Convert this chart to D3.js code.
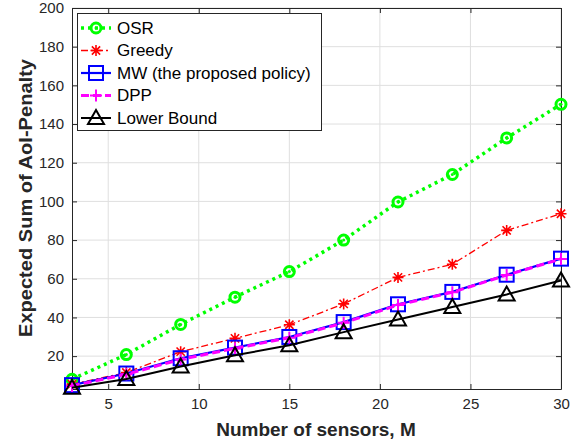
<!DOCTYPE html>
<head>
<meta charset="utf-8">
<style>
  body { margin: 0; background: #fff; }
  text { font-family: "Liberation Sans", Arial, sans-serif; fill: #262626; }
  .grid line { stroke: #dfdfdf; stroke-width: 1; }
  .axis path, .axis line { stroke: #262626; }
  .axis text { font-size: 15px; }
  .lbl { font-size: 19px; font-weight: bold; }
  .leg text { font-size: 17px; fill: #000; }
</style>
</head>
<body>
<svg width="580" height="446"></svg>
<script src="https://d3js.org/d3.v7.min.js"></script>
<script>
// data
var sensors = [3, 6, 9, 12, 15, 18, 21, 24, 27, 30];
var osr     = [8, 20.8, 36.4, 50.5, 63.7, 80, 99.7, 113.9, 132.8, 150.2];
var greedy  = [5.5, 11.5, 22.3, 29.2, 36.2, 47, 60.7, 67.5, 85, 93.6];
var mw      = [5, 11, 18.9, 24.4, 29.9, 37.6, 46.8, 53.2, 62.1, 70.4];
var dpp     = [4.6, 10.6, 18.3, 24.0, 29.5, 37.2, 46.4, 53.0, 61.9, 70.2];
var lower   = [3.6, 8.2, 14.6, 20.4, 25.6, 32.4, 38.9, 45.4, 51.9, 59.1];
var xTicks = [5, 10, 15, 20, 25, 30];
var yTicks = [20, 40, 60, 80, 100, 120, 140, 160, 180, 200];

var svg = d3.select("svg");
var pLeft = 72, pRight = 561, pTop = 8, pBottom = 389;

var x = d3.scaleLinear().domain([3, 30]).range([pLeft, pRight]);
var y = d3.scaleLinear().domain([3, 200]).range([pBottom, pTop]);

// grid
var grid = svg.append("g").attr("class", "grid");
grid.selectAll(".gx").data(xTicks).enter().append("line")
    .attr("x1", d => x(d)).attr("x2", d => x(d)).attr("y1", pTop).attr("y2", pBottom);
grid.selectAll(".gy").data(yTicks).enter().append("line")
    .attr("y1", d => y(d)).attr("y2", d => y(d)).attr("x1", pLeft).attr("x2", pRight);

// axes (ticks inward, full box)
svg.append("g").attr("class", "axis").attr("transform", "translate(0," + pBottom + ")")
    .call(d3.axisBottom(x).tickValues(xTicks).tickSizeInner(-5).tickSizeOuter(0).tickPadding(9));
svg.append("g").attr("class", "axis").attr("transform", "translate(0," + pTop + ")")
    .call(d3.axisTop(x).tickValues(xTicks).tickSizeInner(-5).tickSizeOuter(0).tickFormat(""));
svg.append("g").attr("class", "axis").attr("transform", "translate(" + pLeft + ",0)")
    .call(d3.axisLeft(y).tickValues(yTicks).tickSizeInner(-5).tickSizeOuter(0).tickPadding(8));
svg.append("g").attr("class", "axis").attr("transform", "translate(" + pRight + ",0)")
    .call(d3.axisRight(y).tickValues(yTicks).tickSizeInner(-5).tickSizeOuter(0).tickFormat(""));
svg.selectAll(".axis .domain").attr("stroke-width", 1);

var series = [
  { name: "OSR", vals: osr, color: "#00ff00", width: 3.5, dash: "3,4", marker: "circle" },
  { name: "Greedy", vals: greedy, color: "#ff0000", width: 1.3, dash: "7,3,2,3", marker: "star" },
  { name: "MW (the proposed policy)", vals: mw, color: "#0000ff", width: 2.2, dash: null, marker: "square" },
  { name: "DPP", vals: dpp, color: "#ff00ff", width: 3, dash: "8,4", marker: "plus" },
  { name: "Lower Bound", vals: lower, color: "#000000", width: 2, dash: null, marker: "triangle" }
];

function drawMarker(g, type, color, cx, cy) {
  if (type === "circle") {
    g.append("circle").attr("cx", cx).attr("cy", cy).attr("r", 5)
      .attr("fill", "none").attr("stroke", color).attr("stroke-width", 3);
    g.append("circle").attr("cx", cx).attr("cy", cy).attr("r", 1.5).attr("fill", color);
  } else if (type === "star") {
    var s = 5.5;
    var p = "M" + (cx - s) + "," + cy + "H" + (cx + s) +
            "M" + cx + "," + (cy - s) + "V" + (cy + s) +
            "M" + (cx - s * 0.75) + "," + (cy - s * 0.75) + "L" + (cx + s * 0.75) + "," + (cy + s * 0.75) +
            "M" + (cx - s * 0.75) + "," + (cy + s * 0.75) + "L" + (cx + s * 0.75) + "," + (cy - s * 0.75);
    g.append("path").attr("d", p).attr("stroke", color).attr("stroke-width", 1.6).attr("fill", "none");
  } else if (type === "square") {
    g.append("rect").attr("x", cx - 7).attr("y", cy - 7).attr("width", 14).attr("height", 14)
      .attr("fill", "none").attr("stroke", color).attr("stroke-width", 2);
  } else if (type === "plus") {
    var s = 6;
    g.append("path").attr("d", "M" + (cx - s) + "," + cy + "H" + (cx + s) + "M" + cx + "," + (cy - s) + "V" + (cy + s))
      .attr("stroke", color).attr("stroke-width", 2).attr("fill", "none");
  } else if (type === "triangle") {
    var s = 8;
    g.append("path").attr("d", "M" + cx + "," + (cy - s) + "L" + (cx + s) + "," + (cy + s * 0.75) + "L" + (cx - s) + "," + (cy + s * 0.75) + "Z")
      .attr("fill", "none").attr("stroke", color).attr("stroke-width", 2).attr("stroke-linejoin", "miter");
  }
}

var line = d3.line().x((d, i) => x(sensors[i])).y(d => y(d));

series.forEach(function(s) {
  var g = svg.append("g");
  g.append("path").datum(s.vals).attr("d", line)
    .attr("fill", "none").attr("stroke", s.color).attr("stroke-width", s.width)
    .attr("stroke-dasharray", s.dash);
  s.vals.forEach(function(v, i) { drawMarker(g, s.marker, s.color, x(sensors[i]), y(v)); });
});

// legend
var leg = svg.append("g").attr("class", "leg");
leg.append("rect").attr("x", 77.5).attr("y", 13.5).attr("width", 244).attr("height", 117)
  .attr("fill", "#fff").attr("stroke", "#262626").attr("stroke-width", 1);
series.forEach(function(s, i) {
  var yy = 28 + i * 22.5;
  leg.append("line").attr("x1", 81).attr("x2", 111).attr("y1", yy).attr("y2", yy)
    .attr("stroke", s.color).attr("stroke-width", s.width).attr("stroke-dasharray", s.dash);
  drawMarker(leg, s.marker, s.color, 96, yy);
  leg.append("text").attr("x", 117).attr("y", yy).attr("dy", "0.35em").text(s.name);
});

// axis labels
svg.append("text").attr("class", "lbl").attr("text-anchor", "middle")
  .attr("x", 316).attr("y", 436).text("Number of sensors, M");
svg.append("text").attr("class", "lbl").attr("text-anchor", "middle")
  .attr("textLength", 278).attr("lengthAdjust", "spacingAndGlyphs")
  .attr("transform", "translate(32,198) rotate(-90)")
  .text("Expected Sum of AoI-Penalty");
</script>
</body>
